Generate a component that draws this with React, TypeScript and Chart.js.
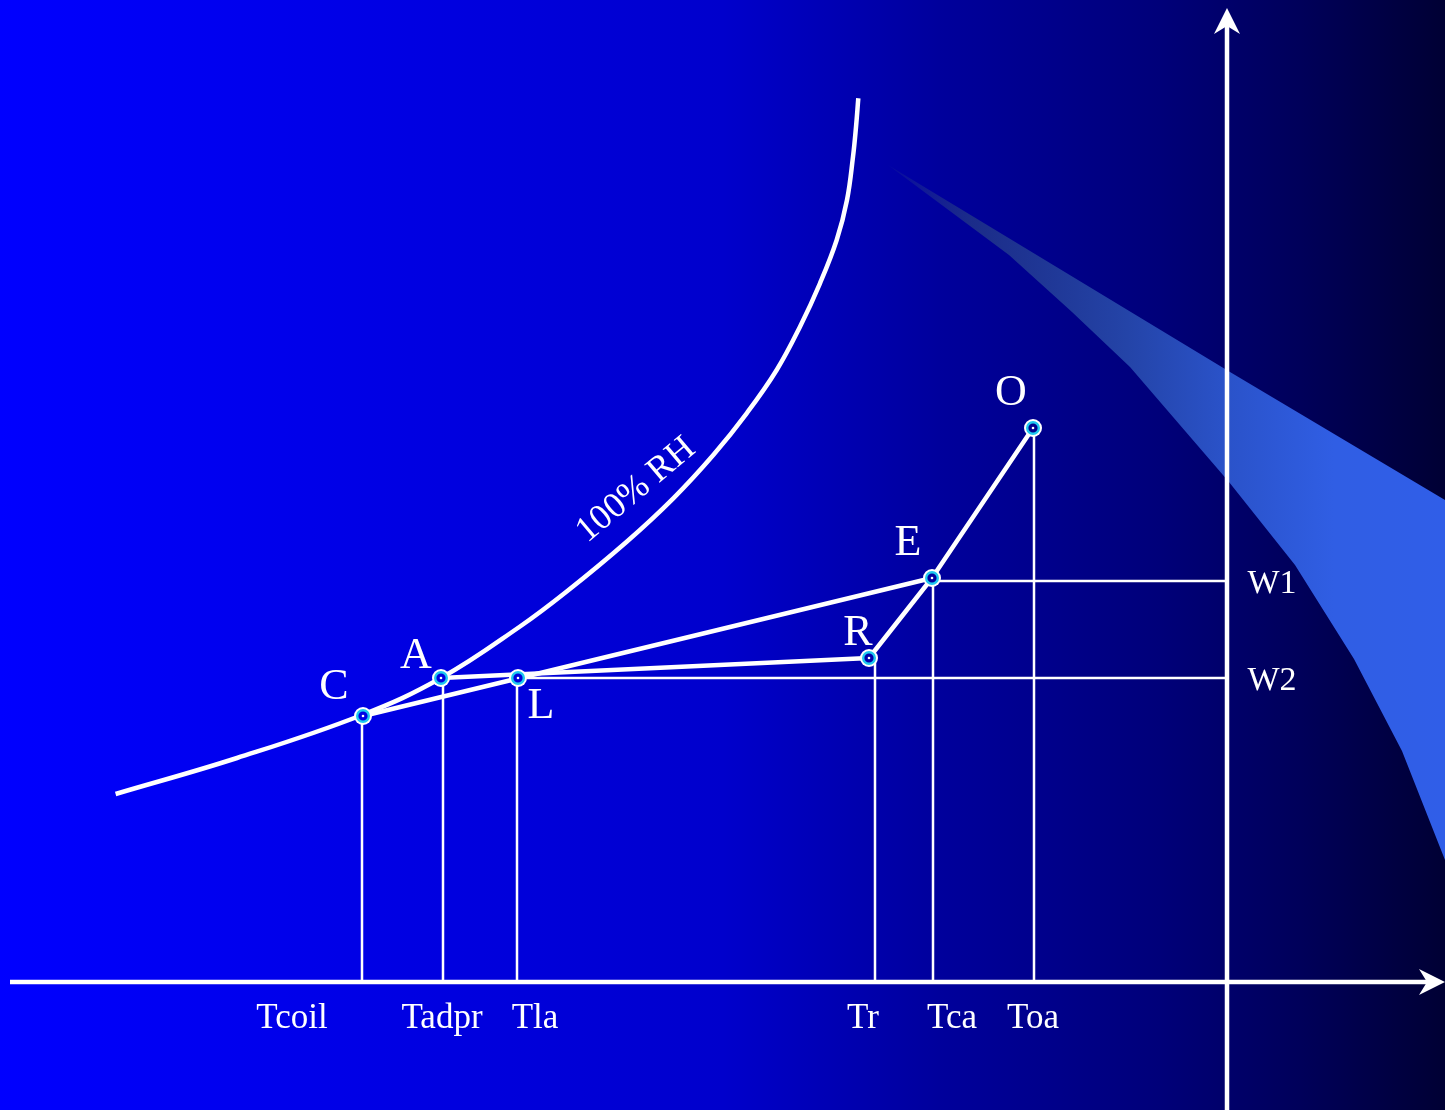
import { useEffect, useRef } from 'react';
import { Chart, registerables } from 'chart.js';

Chart.register(...registerables);

// ---- data (temperature T on x, humidity ratio W on y; arbitrary diagram units) ----
const pointNames = ['C', 'A', 'L', 'R', 'E', 'O'];
const pointT = [36.3, 44.1, 51.8, 86.9, 93.2, 103.3];
const pointW = [26.6, 30.4, 30.4, 32.4, 40.4, 55.4];

const tempTickLabels = ['Tcoil', 'Tadpr', 'Tla', 'Tr', 'Tca', 'Toa'];
const tempTickValues = [36.2, 44.3, 51.7, 87.5, 93.3, 103.4];

const humTickLabels = ['W1', 'W2'];
const humTickValues = [40.1, 30.4];
const humLineStartT = [93.2, 51.8];

const rhCurveT = [11.56, 23.7, 36.2, 44.1, 51.93, 56.67, 62.67, 67.33, 71.33, 74.67, 77.67, 80.0, 82.0, 83.67, 84.7, 85.3, 85.6, 85.83];
const rhCurveW = [18.8, 22.4, 26.7, 30.4, 35.5, 39.05, 44.03, 48.37, 52.7, 56.87, 61.2, 65.53, 69.87, 74.2, 78.2, 82.53, 85.5, 88.37];

const bandT = [88.8, 123.0, 144.5, 144.5, 140.2, 135.4, 129.5, 122.9, 113.0, 107.2, 100.9, 88.8];
const bandW = [81.7, 61.0, 48.2, 12.2, 23.1, 32.3, 41.7, 50.0, 61.5, 67.0, 72.7, 81.7];

const axisT = 122.7; // position of the W axis on the T scale
const xAxisStartT = 1.0;
const xMin = 0;
const xMax = 144.5;
const yMin = -12.8;
const yMax = 98.2;
const yAxisTopW = 97.4;

const FONT = '"Liberation Serif", "Times New Roman", serif';

const pt = (i: number) => ({ x: pointT[i], y: pointW[i] });
const idx = (n: string) => pointNames.indexOf(n);

export default function App() {
  const ref = useRef<HTMLCanvasElement | null>(null);

  useEffect(() => {
    document.body.style.margin = '0';
    document.body.style.overflow = 'hidden';
    const canvas = ref.current;
    if (!canvas) return;

    let bgGrad: CanvasGradient | null = null;
    const getBg = (chart: any): any => {
      const w = chart && chart.width;
      if (!Number.isFinite(w) || w <= 0) return '#0000aa';
      if (!bgGrad) {
        const g = chart.ctx.createLinearGradient(0, 0, w, 0);
        g.addColorStop(0, '#0000ff');
        g.addColorStop(0.5, '#0000cc');
        g.addColorStop(0.65, '#00009c');
        g.addColorStop(0.8, '#00007a');
        g.addColorStop(0.9, '#00005a');
        g.addColorStop(1, '#000034');
        bgGrad = g;
      }
      return bgGrad;
    };

    const bgPlugin = {
      id: 'bg',
      beforeDraw(chart: Chart) {
        const c = chart.ctx;
        c.save();
        c.fillStyle = getBg(chart);
        c.fillRect(0, 0, chart.width, chart.height);
        c.restore();
      },
    };

    const pointLabelOffset: Record<string, [number, number]> = {
      C: [-29, -29],
      A: [-25, -22],
      L: [23, 28],
      R: [-11, -25],
      E: [-24, -35],
      O: [-22, -35],
    };
    const tickLabelOffset = [-70, -1, 18, -12, 19, -1];

    const labelPlugin = {
      id: 'labels',
      afterDatasetsDraw(chart: Chart) {
        const c = chart.ctx;
        const xs = chart.scales.x;
        const ys = chart.scales.y;
        c.save();
        c.fillStyle = '#ffffff';
        // arrowheads
        const ax = xs.getPixelForValue(axisT);
        const ayTop = ys.getPixelForValue(yAxisTopW);
        c.beginPath();
        c.moveTo(ax, ayTop);
        c.lineTo(ax - 13, ayTop + 26);
        c.lineTo(ax, ayTop + 18);
        c.lineTo(ax + 13, ayTop + 26);
        c.closePath();
        c.fill();
        const bx = xs.getPixelForValue(xMax);
        const by = ys.getPixelForValue(0);
        c.beginPath();
        c.moveTo(bx, by);
        c.lineTo(bx - 26, by - 13);
        c.lineTo(bx - 18, by);
        c.lineTo(bx - 26, by + 13);
        c.closePath();
        c.fill();

        c.textAlign = 'center';
        c.textBaseline = 'middle';
        // point labels
        c.font = `44px ${FONT}`;
        pointNames.forEach((n, i) => {
          const o = pointLabelOffset[n];
          c.fillText(n, xs.getPixelForValue(pointT[i]) + o[0], ys.getPixelForValue(pointW[i]) + o[1]);
        });
        // temperature tick labels
        c.font = `35px ${FONT}`;
        tempTickLabels.forEach((t, i) => {
          c.fillText(t, xs.getPixelForValue(tempTickValues[i]) + tickLabelOffset[i], ys.getPixelForValue(0) + 37);
        });
        // humidity labels
        c.font = `34px ${FONT}`;
        humTickLabels.forEach((t, i) => {
          c.fillText(t, xs.getPixelForValue(axisT) + 45, ys.getPixelForValue(humTickValues[i]) + 3);
        });
        // 100% RH
        c.font = `36px ${FONT}`;
        c.translate(xs.getPixelForValue(63.6), ys.getPixelForValue(49.2));
        c.rotate((-40 * Math.PI) / 180);
        c.fillText('100% RH', 0, 0);
        c.restore();
      },
    };

    const line = (data: { x: number; y: number }[], width: number, order: number, extra: any = {}) => ({
      data,
      showLine: true,
      borderColor: '#ffffff',
      borderWidth: width,
      pointRadius: 0,
      pointHoverRadius: 0,
      fill: false,
      order,
      borderCapStyle: 'butt',
      borderJoinStyle: 'round',
      ...extra,
    });

    const datasets: any[] = [];
    // markers
    datasets.push({
      data: pointNames.map((_, i) => pt(i)),
      showLine: false,
      pointRadius: 1.3,
      pointBackgroundColor: '#ffffff',
      pointBorderWidth: 0,
      order: 0,
    });
    datasets.push({
      data: pointNames.map((_, i) => pt(i)),
      showLine: false,
      pointRadius: 5.8,
      pointBackgroundColor: (ctx: any) => getBg(ctx.chart),
      pointBorderColor: '#1ec8f0',
      pointBorderWidth: 2.4,
      order: 1,
    });
    datasets.push({
      data: pointNames.map((_, i) => pt(i)),
      showLine: false,
      pointRadius: 9,
      pointBackgroundColor: '#ffffff',
      pointBorderWidth: 0,
      order: 2,
    });
    // process lines
    datasets.push(line([pt(idx('C')), pt(idx('E'))], 4.5, 3));
    datasets.push(line([pt(idx('A')), pt(idx('R'))], 4.5, 3));
    datasets.push(line([pt(idx('R')), pt(idx('E')), pt(idx('O'))], 4.5, 3));
    // RH curve
    datasets.push(
      line(rhCurveT.map((t, i) => ({ x: t, y: rhCurveW[i] })), 4.5, 4, {
        tension: 0.4,
      })
    );
    // drop lines
    tempTickValues.forEach((t, i) => {
      datasets.push(line([{ x: t, y: pointW[i] }, { x: t, y: 0 }], 2.5, 5));
    });
    // humidity lines
    humTickValues.forEach((w, i) => {
      datasets.push(line([{ x: humLineStartT[i], y: w }, { x: axisT, y: w }], 2.5, 5));
    });
    // axes
    datasets.push(line([{ x: xAxisStartT, y: 0 }, { x: xMax - 1.5, y: 0 }], 4.5, 6));
    datasets.push(line([{ x: axisT, y: yMin }, { x: axisT, y: yAxisTopW - 1.5 }], 4.5, 6));
    // blue band
    datasets.push({
      data: bandT.map((t, i) => ({ x: t, y: bandW[i] })),
      showLine: true,
      borderWidth: 0,
      borderColor: 'rgba(0,0,0,0)',
      pointRadius: 0,
      fill: 'shape',
      tension: 0,
      order: 10,
      backgroundColor: (ctx: any) => {
        const chart = ctx.chart;
        const xs = chart && chart.scales && chart.scales.x;
        if (!xs || !chart.chartArea) return 'rgba(48,94,232,0.8)';
        const x0 = xs.getPixelForValue(bandT[0]);
        const x1 = xs.getPixelForValue(xMax);
        if (!Number.isFinite(x0) || !Number.isFinite(x1) || x1 <= x0) return 'rgba(48,94,232,0.8)';
        const g = chart.ctx.createLinearGradient(x0, 0, x1, 0);
        g.addColorStop(0, 'rgba(40,60,140,0.15)');
        g.addColorStop(0.15, 'rgba(32,52,135,0.85)');
        g.addColorStop(0.43, 'rgb(36,68,168)');
        g.addColorStop(0.6, 'rgb(42,82,200)');
        g.addColorStop(0.8, 'rgb(48,94,228)');
        g.addColorStop(1, 'rgb(48,94,232)');
        return g;
      },
    });

    const chart = new Chart(canvas, {
      type: 'scatter',
      data: { datasets },
      options: {
        animation: false,
        responsive: false,
        maintainAspectRatio: false,
        layout: { padding: 0, autoPadding: false },
        events: [],
        plugins: {
          legend: { display: false },
          tooltip: { enabled: false },
          title: { display: false },
        },
        scales: {
          x: { type: 'linear', min: xMin, max: xMax, display: false },
          y: { type: 'linear', min: yMin, max: yMax, display: false },
        },
      } as any,
      plugins: [bgPlugin, labelPlugin],
    });

    return () => chart.destroy();
  }, []);

  return (
    <canvas
      ref={ref}
      width={1445}
      height={1110}
      style={{ display: 'block', width: 1445, height: 1110 }}
    />
  );
}
